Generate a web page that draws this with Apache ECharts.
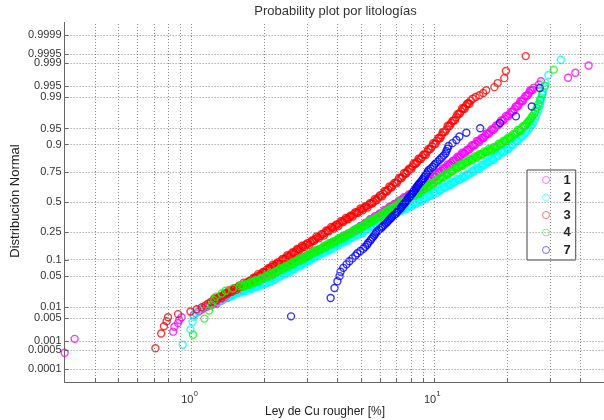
<!DOCTYPE html>
<html>
<head>
<meta charset="utf-8">
<script src="https://cdn.jsdelivr.net/npm/echarts@6/dist/echarts.min.js"></script>
<style>
html,body{margin:0;padding:0;background:#fff;}
#chart{width:604px;height:420px;}
</style>
</head>
<body>
<div id="chart"></div>
<script>
const titleText = 'Probability plot por litologías';
const xAxisTitle = 'Ley de Cu rougher [%]';
const yAxisTitle = 'Distribución Normal';
const lithologies = ['1', '2', '3', '4', '7'];
const lithoColors = ['#ff00ff', '#00ffff', '#ff0000', '#00ff00', '#0000ff'];
const probTicks = [0.0001, 0.0005, 0.001, 0.005, 0.01, 0.05, 0.1, 0.25, 0.5, 0.75, 0.9, 0.95, 0.99, 0.995, 0.999, 0.9995, 0.9999];
const cuGridValues = [0.4, 0.5, 0.6, 0.7, 0.8, 0.9, 1, 2, 3, 4, 5, 6, 7, 8, 9, 10, 20, 30, 40];

// Each point: [Cu rougher %, normal score of its plotting position]
const lito1 = [[0.30,-3.35],[0.33,-3.04],[0.84,-2.88],[0.85,-2.77],[0.88,-2.69],[0.89,-2.62],[0.91,-2.56],[1.02,-2.51],[1.04,-2.47],[1.07,-2.43],[1.10,-2.39],[1.12,-2.36],[1.15,-2.33],[1.19,-2.30],
[1.23,-2.27],[1.24,-2.23],[1.26,-2.24],[1.27,-2.26],[1.29,-2.21],[1.30,-2.18],[1.32,-2.18],[1.33,-2.19],[1.35,-2.15],[1.37,-2.11],[1.38,-2.12],[1.40,-2.13],[1.41,-2.09],[1.43,-2.05],[1.45,-2.06],[1.46,-2.08],[1.48,-2.04],[1.50,-2.01],[1.51,-2.01],[1.53,-2.02],[1.55,-1.98],[1.57,-1.94],[1.58,-1.95],[1.60,-1.96],[1.62,-1.93],[1.64,-1.89],[1.66,-1.90],[1.68,-1.92],[1.70,-1.87],[1.72,-1.84],[1.74,-1.85],[1.76,-1.86],[1.78,-1.82],[1.80,-1.78],[1.82,-1.80],[1.84,-1.81],[1.86,-1.77],[1.88,-1.73],[1.91,-1.74],[1.93,-1.76],[1.95,-1.72],[1.97,-1.69],[2.00,-1.69],[2.02,-1.70],[2.04,-1.66],[2.07,-1.62],[2.09,-1.63],[2.11,-1.64],[2.14,-1.61],[2.16,-1.57],[2.19,-1.58],[2.21,-1.60],[2.24,-1.55],[2.26,-1.52],[2.29,-1.52],[2.32,-1.53],[2.34,-1.49],[2.37,-1.45],[2.40,-1.46],[2.43,-1.47],[2.45,-1.44],[2.48,-1.40],[2.51,-1.41],[2.54,-1.43],[2.57,-1.38],[2.60,-1.35],[2.63,-1.35],[2.66,-1.36],[2.69,-1.32],[2.72,-1.28],[2.75,-1.30],[2.79,-1.31],[2.82,-1.27],[2.85,-1.23],[2.88,-1.24],[2.92,-1.26],[2.95,-1.22],[2.99,-1.19],[3.02,-1.19],[3.06,-1.20],[3.09,-1.17],[3.13,-1.13],[3.16,-1.14],[3.20,-1.15],[3.24,-1.11],[3.27,-1.07],[3.31,-1.09],[3.35,-1.11],[3.39,-1.06],[3.43,-1.03],[3.47,-1.04],[3.51,-1.05],[3.55,-1.01],[3.59,-0.97],[3.63,-0.98],[3.67,-0.99],[3.72,-0.95],[3.76,-0.91],[3.80,-0.92],[3.85,-0.94],[3.89,-0.89],[3.94,-0.86],[3.98,-0.86],[4.03,-0.87],[4.07,-0.83],[4.12,-0.79],[4.17,-0.80],[4.22,-0.81],[4.27,-0.77],[4.32,-0.73],[4.37,-0.74],[4.42,-0.76],[4.47,-0.71],[4.52,-0.68],[4.57,-0.68],[4.62,-0.68],[4.68,-0.64],[4.73,-0.60],[4.79,-0.61],[4.84,-0.61],[4.90,-0.57],[4.96,-0.53],[5.01,-0.54],[5.07,-0.55],[5.13,-0.50],[5.19,-0.46],[5.25,-0.46],[5.31,-0.47],[5.37,-0.43],[5.43,-0.38],[5.50,-0.39],[5.56,-0.40],[5.62,-0.36],[5.69,-0.31],[5.75,-0.32],[5.82,-0.34],[5.89,-0.29],[5.96,-0.25],[6.03,-0.25],[6.10,-0.26],[6.17,-0.22],[6.24,-0.17],[6.31,-0.18],[6.38,-0.19],[6.46,-0.15],[6.53,-0.10],[6.61,-0.11],[6.68,-0.13],[6.76,-0.08],[6.84,-0.04],[6.92,-0.04],[7.00,-0.05],[7.08,-0.01],[7.16,0.04],[7.24,0.03],[7.33,0.03],[7.41,0.06],[7.50,0.11],[7.59,0.10],[7.67,0.09],[7.76,0.13],[7.85,0.17],[7.94,0.17],[8.04,0.17],[8.13,0.20],[8.22,0.25],[8.32,0.24],[8.41,0.24],[8.51,0.27],[8.61,0.32],[8.71,0.31],[8.81,0.30],[8.91,0.35],[9.02,0.39],[9.12,0.39],[9.23,0.40],[9.33,0.44],[9.44,0.49],[9.55,0.48],[9.66,0.48],[9.77,0.52],[9.89,0.58],[10.0,0.57],[10.12,0.56],[10.23,0.61],[10.35,0.66],[10.47,0.66],[10.59,0.66],[10.72,0.70],[10.84,0.75],[10.96,0.74],[11.09,0.75],[11.22,0.79],[11.35,0.84],[11.48,0.83],[11.61,0.82],[11.75,0.87],[11.89,0.92],[12.02,0.92],[12.16,0.92],[12.30,0.96],[12.45,1.01],[12.59,1.00],[12.74,1.01],[12.88,1.05],[13.03,1.10],[13.18,1.09],[13.34,1.08],[13.49,1.13],[13.65,1.17],[13.80,1.17],[13.96,1.18],[14.13,1.22],[14.29,1.27],[14.45,1.26],[14.62,1.26],[14.79,1.30],[14.96,1.36],[15.14,1.35],[15.31,1.34],[15.49,1.39],[15.67,1.43],[15.85,1.43],[16.03,1.44],[16.22,1.48],[16.41,1.53],[16.60,1.52],[16.79,1.53],[16.98,1.57],[17.18,1.62],[17.38,1.61],[17.58,1.61],[17.78,1.66],[17.99,1.71],[18.20,1.71],[18.41,1.72],[18.62,1.76],[18.84,1.82],[19.05,1.81],[19.28,1.82],[19.50,1.86],[19.72,1.92],[19.95,1.91],[20.18,1.91],[20.42,1.96],[20.65,2.01],[20.89,2.01],[21.13,2.02],[21.38,2.07],[21.63,2.13],[21.88,2.13],[22.13,2.14],[22.39,2.19],[22.65,2.25],[22.91,2.25],[23.17,2.25],[23.44,2.31],[23.71,2.36],[23.99,2.37],[24.27,2.38],[24.55,2.43],[24.83,2.49],[25.12,2.49],[25.41,2.50],[25.70,2.55],
[26.98,2.62],[27.5,2.69],[35.56,2.77],[38.1,2.88],[43.2,3.04],[52.0,3.35]];

const lito2 = [[0.92,-3.17],[0.99,-2.83],[1.01,-2.66],[1.02,-2.55],[1.04,-2.46],[1.07,-2.39],[1.11,-2.33],[1.16,-2.27],[1.29,-2.22],[1.33,-2.18],[1.38,-2.14],
[1.41,-2.10],[1.43,-2.06],[1.45,-2.08],[1.46,-2.10],[1.48,-2.06],[1.50,-2.03],[1.51,-2.04],[1.53,-2.05],[1.55,-2.02],[1.57,-1.98],[1.58,-2.00],[1.60,-2.01],[1.62,-1.98],[1.64,-1.94],[1.66,-1.96],[1.68,-1.98],[1.70,-1.94],[1.72,-1.91],[1.74,-1.92],[1.76,-1.93],[1.78,-1.90],[1.80,-1.87],[1.82,-1.89],[1.84,-1.90],[1.86,-1.87],[1.88,-1.83],[1.91,-1.85],[1.93,-1.87],[1.95,-1.83],[1.97,-1.80],[2.00,-1.81],[2.02,-1.82],[2.04,-1.79],[2.07,-1.75],[2.09,-1.76],[2.11,-1.77],[2.14,-1.74],[2.16,-1.70],[2.19,-1.71],[2.21,-1.73],[2.24,-1.68],[2.26,-1.65],[2.29,-1.65],[2.32,-1.66],[2.34,-1.62],[2.37,-1.58],[2.40,-1.60],[2.43,-1.61],[2.45,-1.57],[2.48,-1.53],[2.51,-1.54],[2.54,-1.56],[2.57,-1.51],[2.60,-1.48],[2.63,-1.48],[2.66,-1.49],[2.69,-1.45],[2.72,-1.41],[2.75,-1.42],[2.79,-1.43],[2.82,-1.39],[2.85,-1.35],[2.88,-1.36],[2.92,-1.38],[2.95,-1.33],[2.99,-1.30],[3.02,-1.30],[3.06,-1.31],[3.09,-1.27],[3.13,-1.23],[3.16,-1.24],[3.20,-1.25],[3.24,-1.21],[3.27,-1.17],[3.31,-1.18],[3.35,-1.20],[3.39,-1.15],[3.43,-1.12],[3.47,-1.12],[3.51,-1.13],[3.55,-1.10],[3.59,-1.06],[3.63,-1.07],[3.67,-1.08],[3.72,-1.04],[3.76,-1.00],[3.80,-1.01],[3.85,-1.03],[3.89,-0.98],[3.94,-0.95],[3.98,-0.95],[4.03,-0.96],[4.07,-0.92],[4.12,-0.88],[4.17,-0.89],[4.22,-0.90],[4.27,-0.87],[4.32,-0.83],[4.37,-0.84],[4.42,-0.86],[4.47,-0.81],[4.52,-0.78],[4.57,-0.78],[4.62,-0.79],[4.68,-0.75],[4.73,-0.71],[4.79,-0.72],[4.84,-0.73],[4.90,-0.70],[4.96,-0.66],[5.01,-0.67],[5.07,-0.69],[5.13,-0.64],[5.19,-0.61],[5.25,-0.61],[5.31,-0.62],[5.37,-0.58],[5.43,-0.54],[5.50,-0.55],[5.56,-0.56],[5.62,-0.52],[5.69,-0.48],[5.75,-0.49],[5.82,-0.51],[5.89,-0.46],[5.96,-0.43],[6.03,-0.43],[6.10,-0.43],[6.17,-0.39],[6.24,-0.35],[6.31,-0.36],[6.38,-0.37],[6.46,-0.33],[6.53,-0.29],[6.61,-0.30],[6.68,-0.32],[6.76,-0.27],[6.84,-0.24],[6.92,-0.24],[7.00,-0.25],[7.08,-0.21],[7.16,-0.17],[7.24,-0.18],[7.33,-0.19],[7.41,-0.16],[7.50,-0.12],[7.59,-0.13],[7.67,-0.15],[7.76,-0.10],[7.85,-0.07],[7.94,-0.08],[8.04,-0.09],[8.13,-0.05],[8.22,-0.01],[8.32,-0.03],[8.41,-0.04],[8.51,0.00],[8.61,0.05],[8.71,0.03],[8.81,0.01],[8.91,0.05],[9.02,0.09],[9.12,0.08],[9.23,0.08],[9.33,0.11],[9.44,0.16],[9.55,0.14],[9.66,0.14],[9.77,0.17],[9.89,0.22],[10.0,0.20],[10.12,0.19],[10.23,0.23],[10.35,0.27],[10.47,0.26],[10.59,0.26],[10.72,0.29],[10.84,0.34],[10.96,0.32],[11.09,0.32],[11.22,0.35],[11.35,0.40],[11.48,0.38],[11.61,0.37],[11.75,0.41],[11.89,0.45],[12.02,0.44],[12.16,0.44],[12.30,0.47],[12.45,0.52],[12.59,0.50],[12.74,0.50],[12.88,0.53],[13.03,0.58],[13.18,0.56],[13.34,0.55],[13.49,0.59],[13.65,0.63],[13.80,0.62],[13.96,0.62],[14.13,0.65],[14.29,0.70],[14.45,0.69],[14.62,0.69],[14.79,0.72],[14.96,0.77],[15.14,0.75],[15.31,0.74],[15.49,0.79],[15.67,0.83],[15.85,0.82],[16.03,0.82],[16.22,0.85],[16.41,0.90],[16.60,0.89],[16.79,0.89],[16.98,0.92],[17.18,0.97],[17.38,0.95],[17.58,0.94],[17.78,0.99],[17.99,1.03],[18.20,1.03],[18.41,1.03],[18.62,1.07],[18.84,1.12],[19.05,1.11],[19.28,1.11],[19.50,1.15],[19.72,1.20],[19.95,1.19],[20.18,1.18],[20.42,1.23],[20.65,1.27],[20.89,1.27],[21.13,1.28],[21.38,1.32],[21.63,1.37],[21.88,1.36],[22.13,1.36],[22.39,1.41],[22.65,1.46],[22.91,1.46],[23.17,1.47],[23.44,1.51],[23.71,1.54],[23.99,1.57],[24.27,1.61],[24.55,1.64],[24.83,1.68],[25.12,1.71],[25.41,1.74],[25.70,1.80],[26.00,1.86],[26.30,1.92],
[26.7,2.01],[26.9,2.07],[27.1,2.14],[27.2,2.18],[27.3,2.22],[27.5,2.27],[27.6,2.33],[27.8,2.39],[28.05,2.46],[28.4,2.55],[28.6,2.66],[29.5,2.83],[33.2,3.17]];

const lito3 = [[0.71,-3.25],[0.75,-2.92],[0.77,-2.76],[0.79,-2.65],[0.80,-2.56],[0.88,-2.49],[0.99,-2.43],[1.05,-2.38],[1.10,-2.34],[1.14,-2.30],[1.17,-2.26],[1.20,-2.22],
[1.23,-2.19],[1.24,-2.14],[1.26,-2.16],[1.27,-2.18],[1.29,-2.13],[1.30,-2.10],[1.32,-2.10],[1.33,-2.13],[1.35,-2.07],[1.37,-2.03],[1.38,-2.04],[1.40,-2.05],[1.41,-2.01],[1.43,-1.96],[1.45,-1.98],[1.46,-2.00],[1.48,-1.95],[1.50,-1.92],[1.51,-1.92],[1.53,-1.95],[1.55,-1.90],[1.57,-1.86],[1.58,-1.87],[1.60,-1.88],[1.62,-1.84],[1.64,-1.79],[1.66,-1.82],[1.68,-1.84],[1.70,-1.79],[1.72,-1.76],[1.74,-1.76],[1.76,-1.78],[1.78,-1.72],[1.80,-1.68],[1.82,-1.69],[1.84,-1.69],[1.86,-1.65],[1.88,-1.60],[1.91,-1.62],[1.93,-1.63],[1.95,-1.58],[1.97,-1.55],[2.00,-1.55],[2.02,-1.57],[2.04,-1.51],[2.07,-1.47],[2.09,-1.48],[2.11,-1.48],[2.14,-1.44],[2.16,-1.39],[2.19,-1.41],[2.21,-1.42],[2.24,-1.37],[2.26,-1.34],[2.29,-1.34],[2.32,-1.36],[2.34,-1.30],[2.37,-1.26],[2.40,-1.27],[2.43,-1.27],[2.45,-1.23],[2.48,-1.18],[2.51,-1.20],[2.54,-1.21],[2.57,-1.16],[2.60,-1.12],[2.63,-1.12],[2.66,-1.15],[2.69,-1.09],[2.72,-1.04],[2.75,-1.05],[2.79,-1.06],[2.82,-1.02],[2.85,-0.97],[2.88,-0.99],[2.92,-1.00],[2.95,-0.95],[2.99,-0.92],[3.02,-0.92],[3.06,-0.95],[3.09,-0.89],[3.13,-0.85],[3.16,-0.86],[3.20,-0.86],[3.24,-0.82],[3.27,-0.76],[3.31,-0.78],[3.35,-0.80],[3.39,-0.75],[3.43,-0.71],[3.47,-0.71],[3.51,-0.74],[3.55,-0.68],[3.59,-0.63],[3.63,-0.64],[3.67,-0.65],[3.72,-0.61],[3.76,-0.55],[3.80,-0.57],[3.85,-0.59],[3.89,-0.54],[3.94,-0.50],[3.98,-0.50],[4.03,-0.53],[4.07,-0.47],[4.12,-0.42],[4.17,-0.43],[4.22,-0.44],[4.27,-0.40],[4.32,-0.35],[4.37,-0.37],[4.42,-0.38],[4.47,-0.33],[4.52,-0.30],[4.57,-0.30],[4.62,-0.32],[4.68,-0.26],[4.73,-0.22],[4.79,-0.23],[4.84,-0.24],[4.90,-0.20],[4.96,-0.14],[5.01,-0.16],[5.07,-0.18],[5.13,-0.13],[5.19,-0.09],[5.25,-0.09],[5.31,-0.12],[5.37,-0.06],[5.43,-0.02],[5.50,-0.03],[5.56,-0.03],[5.62,0.01],[5.69,0.07],[5.75,0.05],[5.82,0.05],[5.89,0.10],[5.96,0.15],[6.03,0.15],[6.10,0.13],[6.17,0.19],[6.24,0.25],[6.31,0.24],[6.38,0.24],[6.46,0.28],[6.53,0.35],[6.61,0.33],[6.68,0.33],[6.76,0.38],[6.84,0.43],[6.92,0.43],[7.00,0.42],[7.08,0.48],[7.16,0.54],[7.24,0.53],[7.33,0.54],[7.41,0.58],[7.50,0.65],[7.59,0.64],[7.67,0.64],[7.76,0.69],[7.85,0.74],[7.94,0.74],[8.04,0.73],[8.13,0.80],[8.22,0.86],[8.32,0.85],[8.41,0.86],[8.51,0.90],[8.61,0.97],[8.71,0.96],[8.81,0.96],[8.91,1.01],[9.02,1.06],[9.12,1.06],[9.23,1.05],[9.33,1.12],[9.44,1.18],[9.55,1.18],[9.66,1.19],[9.77,1.24],[9.89,1.31],[10.0,1.29],[10.12,1.30],[10.23,1.36],[10.35,1.42],[10.47,1.43],[10.59,1.42],[10.72,1.49],[10.84,1.56],[10.96,1.56],[11.09,1.57],[11.22,1.62],[11.35,1.70],[11.48,1.69],[11.61,1.70],[11.75,1.76],[11.89,1.81],[12.02,1.82],[12.16,1.82],[12.30,1.89],[12.45,1.96],[12.59,1.96],[12.74,1.97],[12.88,2.02],[13.03,2.09],[13.18,2.08],[13.34,2.08],[13.49,2.14],[13.65,2.19],[13.80,2.20],[13.96,2.19],[14.13,2.26],
[14.4,2.30],[14.8,2.34],[15.35,2.38],[15.9,2.43],[16.35,2.49],[17.68,2.56],[18.24,2.65],[19.41,2.76],[19.72,2.92],[23.8,3.25]];

const lito4 = [[1.015,-2.95],[1.13,-2.59],[1.18,-2.41],[1.21,-2.28],[1.24,-2.18],[1.26,-2.10],[1.33,-2.03],[1.38,-1.97],[1.48,-1.92],
[1.58,-1.87],[1.60,-1.84],[1.62,-1.86],[1.64,-1.88],[1.66,-1.84],[1.68,-1.82],[1.70,-1.83],[1.72,-1.84],[1.74,-1.81],[1.76,-1.77],[1.78,-1.79],[1.80,-1.80],[1.82,-1.77],[1.84,-1.73],[1.86,-1.74],[1.88,-1.76],[1.91,-1.72],[1.93,-1.69],[1.95,-1.70],[1.97,-1.71],[2.00,-1.68],[2.02,-1.64],[2.04,-1.65],[2.07,-1.66],[2.09,-1.62],[2.11,-1.58],[2.14,-1.60],[2.16,-1.62],[2.19,-1.57],[2.21,-1.54],[2.24,-1.54],[2.26,-1.55],[2.29,-1.51],[2.32,-1.47],[2.34,-1.49],[2.37,-1.50],[2.40,-1.46],[2.43,-1.42],[2.45,-1.43],[2.48,-1.45],[2.51,-1.40],[2.54,-1.37],[2.57,-1.38],[2.60,-1.39],[2.63,-1.35],[2.66,-1.31],[2.69,-1.32],[2.72,-1.33],[2.75,-1.29],[2.79,-1.25],[2.82,-1.27],[2.85,-1.29],[2.88,-1.24],[2.92,-1.21],[2.95,-1.21],[2.99,-1.22],[3.02,-1.18],[3.06,-1.14],[3.09,-1.15],[3.13,-1.16],[3.16,-1.12],[3.20,-1.08],[3.24,-1.09],[3.27,-1.11],[3.31,-1.07],[3.35,-1.04],[3.39,-1.04],[3.43,-1.05],[3.47,-1.01],[3.51,-0.97],[3.55,-0.98],[3.59,-0.99],[3.63,-0.95],[3.67,-0.91],[3.72,-0.92],[3.76,-0.94],[3.80,-0.89],[3.85,-0.86],[3.89,-0.87],[3.94,-0.88],[3.98,-0.84],[4.03,-0.80],[4.07,-0.81],[4.12,-0.82],[4.17,-0.78],[4.22,-0.74],[4.27,-0.75],[4.32,-0.77],[4.37,-0.72],[4.42,-0.69],[4.47,-0.70],[4.52,-0.71],[4.57,-0.67],[4.62,-0.63],[4.68,-0.64],[4.73,-0.65],[4.79,-0.61],[4.84,-0.57],[4.90,-0.58],[4.96,-0.60],[5.01,-0.55],[5.07,-0.52],[5.13,-0.52],[5.19,-0.52],[5.25,-0.48],[5.31,-0.44],[5.37,-0.45],[5.43,-0.46],[5.50,-0.42],[5.56,-0.38],[5.62,-0.39],[5.69,-0.40],[5.75,-0.35],[5.82,-0.32],[5.89,-0.32],[5.96,-0.33],[6.03,-0.29],[6.10,-0.24],[6.17,-0.25],[6.24,-0.26],[6.31,-0.22],[6.38,-0.18],[6.46,-0.19],[6.53,-0.20],[6.61,-0.15],[6.68,-0.12],[6.76,-0.12],[6.84,-0.13],[6.92,-0.09],[7.00,-0.05],[7.08,-0.06],[7.16,-0.06],[7.24,-0.02],[7.33,0.03],[7.41,0.01],[7.50,0.00],[7.59,0.04],[7.67,0.08],[7.76,0.07],[7.85,0.07],[7.94,0.11],[8.04,0.16],[8.13,0.14],[8.22,0.14],[8.32,0.17],[8.41,0.22],[8.51,0.20],[8.61,0.19],[8.71,0.24],[8.81,0.28],[8.91,0.27],[9.02,0.27],[9.12,0.30],[9.23,0.35],[9.33,0.34],[9.44,0.34],[9.55,0.37],[9.66,0.42],[9.77,0.41],[9.89,0.40],[10.0,0.44],[10.12,0.48],[10.23,0.48],[10.35,0.48],[10.47,0.51],[10.59,0.56],[10.72,0.55],[10.84,0.55],[10.96,0.58],[11.09,0.63],[11.22,0.62],[11.35,0.61],[11.48,0.65],[11.61,0.69],[11.75,0.69],[11.89,0.69],[12.02,0.72],[12.16,0.77],[12.30,0.76],[12.45,0.76],[12.59,0.79],[12.74,0.84],[12.88,0.82],[13.03,0.81],[13.18,0.85],[13.34,0.89],[13.49,0.88],[13.65,0.88],[13.80,0.91],[13.96,0.96],[14.13,0.94],[14.29,0.94],[14.45,0.97],[14.62,1.02],[14.79,1.00],[14.96,0.99],[15.14,1.03],[15.31,1.07],[15.49,1.06],[15.67,1.05],[15.85,1.08],[16.03,1.13],[16.22,1.11],[16.41,1.11],[16.60,1.14],[16.79,1.19],[16.98,1.17],[17.18,1.15],[17.38,1.19],[17.58,1.23],[17.78,1.22],[17.99,1.22],[18.20,1.25],[18.41,1.30],[18.62,1.29],[18.84,1.29],[19.05,1.32],[19.28,1.37],[19.50,1.36],[19.72,1.35],[19.95,1.40],[20.18,1.44],[20.42,1.43],[20.65,1.43],[20.89,1.47],[21.13,1.52],[21.38,1.51],[21.63,1.52],[21.88,1.56],[22.13,1.61],[22.39,1.60],[22.65,1.59],[22.91,1.64],[23.17,1.69],[23.44,1.69],[23.71,1.70],[23.99,1.75],[24.27,1.78],[24.55,1.81],[24.83,1.84],[25.12,1.88],
[25.35,1.92],[25.76,1.97],[26.06,2.03],[26.42,2.10],[26.79,2.18],[27.29,2.28],[27.86,2.41],[28.58,2.59],[31.05,2.95]];

const lito7 = [[2.57,-2.54],[3.74,-2.13],[3.88,-1.91],[3.99,-1.76],[4.07,-1.645],[4.11,-1.546],[4.22,-1.46],[4.35,-1.383],[4.47,-1.314],[4.60,-1.25],[4.73,-1.19],[4.82,-1.137],[4.96,-1.085],[5.10,-1.036],[5.19,-0.99],[5.29,-0.946],[5.34,-0.903],[5.44,-0.861],[5.50,-0.821],[5.57,-0.783],[5.65,-0.746],[5.71,-0.710],[5.76,-0.674],[5.82,-0.640],[5.93,-0.606],[6.04,-0.573],[6.12,-0.540],[6.21,-0.508],[6.30,-0.477],[6.39,-0.446],[6.45,-0.415],[6.54,-0.385],[6.63,-0.355],[6.69,-0.326],[6.79,-0.297],[6.89,-0.268],[6.98,-0.239],[7.05,-0.210],[7.12,-0.182],[7.22,-0.154],[7.29,-0.126],[7.35,-0.098],[7.42,-0.070],[7.49,-0.042],[7.57,-0.014],[7.64,0.014],[7.71,0.042],[7.78,0.070],[7.85,0.098],[7.93,0.126],[8.00,0.154],[8.08,0.182],[8.16,0.210],[8.23,0.239],[8.31,0.268],[8.39,0.297],[8.43,0.326],[8.51,0.355],[8.59,0.385],[8.67,0.415],[8.79,0.446],[8.88,0.477],[8.96,0.508],[9.05,0.540],[9.13,0.573],[9.22,0.606],[9.30,0.640],[9.39,0.674],[9.48,0.710],[9.66,0.746],[9.84,0.783],[9.98,0.821],[10.12,0.861],[10.31,0.903],[10.51,0.946],[10.71,0.99],[10.91,1.036],[11.12,1.085],[11.22,1.137],[11.33,1.19],[11.44,1.25],[11.88,1.314],[12.33,1.383],[12.69,1.46],[13.55,1.546],[15.45,1.645],[18.65,1.76],[21.68,1.91],[25.19,2.13],[27.16,2.54]];

const lithoData = [lito1, lito2, lito3, lito4, lito7];

// Inverse standard normal CDF (Acklam's rational approximation)
function normInv(p) {
  const a = [-3.969683028665376e+01, 2.209460984245205e+02, -2.759285104469687e+02, 1.383577518672690e+02, -3.066479806614716e+01, 2.506628277459239e+00];
  const b = [-5.447609879822406e+01, 1.615858368580409e+02, -1.556989798598866e+02, 6.680131188771972e+01, -1.328068155288572e+01];
  const c = [-7.784894002430293e-03, -3.223964580411365e-01, -2.400758277161838e+00, -2.549732539343734e+00, 4.374664141464968e+00, 2.938163982698783e+00];
  const d = [7.784695709041462e-03, 3.224671290700398e-01, 2.445134137142996e+00, 3.754408661907416e+00];
  const pl = 0.02425;
  let q, r;
  if (p < pl) {
    q = Math.sqrt(-2 * Math.log(p));
    return (((((c[0]*q+c[1])*q+c[2])*q+c[3])*q+c[4])*q+c[5]) / ((((d[0]*q+d[1])*q+d[2])*q+d[3])*q+1);
  }
  if (p > 1 - pl) {
    q = Math.sqrt(-2 * Math.log(1 - p));
    return -(((((c[0]*q+c[1])*q+c[2])*q+c[3])*q+c[4])*q+c[5]) / ((((d[0]*q+d[1])*q+d[2])*q+d[3])*q+1);
  }
  q = p - 0.5; r = q * q;
  return (((((a[0]*r+a[1])*r+a[2])*r+a[3])*r+a[4])*r+a[5])*q / (((((b[0]*r+b[1])*r+b[2])*r+b[3])*r+b[4])*r+1);
}

const FONT = '"Liberation Sans", Arial, sans-serif';
const X_MIN = 0.3, X_MAX = 50, Z_MIN = -4, Z_MAX = 4;
const gridDot = { color: '#8a8a8a', type: [1, 2], width: 1 };
const axisDark = '#666';

const chart = echarts.init(document.getElementById('chart'), null, { renderer: 'canvas' });

const probGrid = probTicks.map(p => ({
  yAxis: normInv(p),
  label: { formatter: String(p) }
}));
const cuGrid = cuGridValues.map(v => ({ xAxis: v }));

// small inward tick marks on both axes
const tickX = cuGridValues.map(v => [{ coord: [v, Z_MIN] }, { coord: [v, Z_MIN + 0.09] }]);
const tickY = probTicks.map(p => [{ coord: [X_MIN, normInv(p)] }, { coord: [X_MIN * Math.pow(10, 4 / 245), normInv(p)] }]);

const scatterSeries = lithologies.map((name, i) => ({
  type: 'scatter',
  name: name,
  data: lithoData[i],
  symbol: 'circle',
  symbolSize: 7,
  clip: false,
  silent: true,
  z: 3,
  itemStyle: { color: 'rgba(255,255,255,0)', borderColor: lithoColors[i], borderWidth: 1.4 }
}));

const option = {
  backgroundColor: '#fff',
  animation: false,
  textStyle: { fontFamily: FONT },
  title: {
    text: titleText,
    left: 335.5,
    textAlign: 'center',
    top: 3,
    padding: 0,
    textStyle: { fontFamily: FONT, fontSize: 13, fontWeight: 'normal', color: '#333', lineHeight: 16 }
  },
  grid: { left: 64.6, right: -4.9, top: 22.4, bottom: 38, containLabel: false },
  xAxis: {
    type: 'log',
    logBase: 10,
    min: X_MIN,
    max: X_MAX,
    axisLine: { show: true, onZero: false, lineStyle: { color: axisDark, width: 1 } },
    axisTick: { show: false },
    splitLine: { show: false },
    axisLabel: {
      margin: 7,
      showMinLabel: false,
      showMaxLabel: false,
      formatter: function (v) {
        const e = Math.log10(v);
        if (Math.abs(e - Math.round(e)) > 1e-6) return '';
        return '{b|10}{s|' + Math.round(e) + '}';
      },
      rich: {
        b: { fontFamily: FONT, fontSize: 11, color: '#333', verticalAlign: 'bottom', lineHeight: 16 },
        s: { fontFamily: FONT, fontSize: 8, color: '#333', verticalAlign: 'bottom', lineHeight: 16, padding: [0, 4, 7, 0] }
      }
    }
  },
  yAxis: {
    type: 'value',
    min: Z_MIN,
    max: Z_MAX,
    axisLine: { show: true, lineStyle: { color: axisDark, width: 1 } },
    axisTick: { show: false },
    axisLabel: { show: false },
    splitLine: { show: false }
  },
  legend: {
    data: lithologies.map((n, i) => ({
      name: n,
      icon: 'circle',
      itemStyle: { color: 'rgba(255,255,255,0)', borderColor: lithoColors[i], borderWidth: 1, opacity: 0.55 }
    })),
    orient: 'vertical',
    left: 527,
    top: 170,
    padding: [3, 5, 3, 15],
    itemWidth: 7,
    itemHeight: 7,
    itemGap: 3.5,
    selectedMode: false,
    backgroundColor: '#fff',
    borderColor: '#444',
    borderWidth: 1,
    textStyle: { fontFamily: FONT, fontSize: 13, fontWeight: 'bold', color: '#222', lineHeight: 14, padding: [0, 0, 0, 9] }
  },
  graphic: [
    {
      type: 'text', x: 325, y: 412,
      style: { text: xAxisTitle, font: '12px ' + FONT, fill: '#222', align: 'center', verticalAlign: 'middle' }
    },
    {
      type: 'text', x: 15.5, y: 201, rotation: Math.PI / 2,
      style: { text: yAxisTitle, font: '13px ' + FONT, fill: '#222', align: 'center', verticalAlign: 'middle' }
    }
  ],
  series: [
    {
      type: 'line', data: [], silent: true, z: 1,
      markLine: {
        silent: true, symbol: 'none', animation: false,
        lineStyle: gridDot,
        label: { show: true, position: 'start', distance: 3, fontFamily: FONT, fontSize: 11, color: '#333' },
        data: probGrid
      }
    },
    {
      type: 'line', data: [], silent: true, z: 1,
      markLine: {
        silent: true, symbol: 'none', animation: false,
        lineStyle: gridDot,
        label: { show: false },
        data: cuGrid
      }
    },
    {
      type: 'line', data: [], silent: true, z: 2,
      markLine: {
        silent: true, symbol: 'none', animation: false,
        lineStyle: { color: axisDark, type: 'solid', width: 1 },
        label: { show: false },
        data: tickX.concat(tickY)
      }
    }
  ].concat(scatterSeries)
};

chart.setOption(option);
</script>
</body>
</html>
